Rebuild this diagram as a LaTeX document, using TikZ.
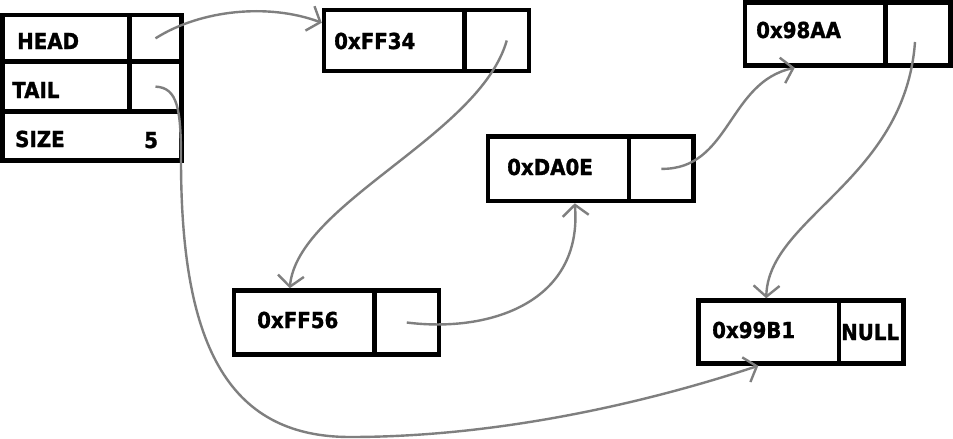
\documentclass[tikz,border=0pt]{standalone}
\usepackage{fontspec}
\newfontfamily\lblfont[FakeStretch=0.9,FakeBold=1.2]{DejaVu Sans}
\usetikzlibrary{arrows.meta,calc}
\definecolor{arrowgray}{RGB}{127,127,127}
\begin{document}
\begin{tikzpicture}[x=1pt,y=-1pt,
  cell/.style={draw=black,line width=4.5pt,inner sep=0pt,fill=none},
  lbl/.style={font=\lblfont\bfseries\fontsize{22}{24}\selectfont,anchor=base west,inner sep=0pt},
  link/.style={draw=arrowgray,line width=2.4pt,-{Straight Barb[length=11pt,width=26pt]}}]
\useasboundingbox[fill=white] (0,0) rectangle (953,439);
% header struct
\node[cell,minimum width=127pt,minimum height=46.7pt] (headd) at (66,38.35) {};
\node[cell,minimum width=52pt,minimum height=46.7pt] (headp) at (155.5,38.35) {};
\node[cell,minimum width=127pt,minimum height=49.8pt] (taild) at (66,86.6) {};
\node[cell,minimum width=52pt,minimum height=49.8pt] (tailp) at (155.5,86.6) {};
\node[cell,minimum width=179pt,minimum height=49pt] (sized) at (92,136) {};
\node[lbl] (thead) at (17,49) {HEAD};
\node[lbl] (ttail) at (12,98) {TAIL};
\node[lbl] (tsize) at (15,147) {SIZE};
\node[lbl] (tfive) at (144,148) {5};
% list nodes
\node[cell,minimum width=140.5pt,minimum height=61pt] (ff34d) at (394.25,40.5) {};
\node[cell,minimum width=64.5pt,minimum height=61pt] (ff34p) at (496.75,40.5) {};
\node[lbl] (tff34) at (334,49) {0xFF34};
\node[cell,minimum width=140.5pt,minimum height=63pt] (aa98d) at (815.25,34) {};
\node[cell,minimum width=65pt,minimum height=63pt] (aa98p) at (918,34) {};
\node[lbl] (taa98) at (756,38) {0x98AA};
\node[cell,minimum width=141pt,minimum height=64.3pt] (da0ed) at (558.5,168.85) {};
\node[cell,minimum width=64.5pt,minimum height=64.3pt] (da0ep) at (661.25,168.85) {};
\node[lbl] (tda0e) at (507,175) {0xDA0E};
\node[cell,minimum width=140.5pt,minimum height=64pt] (ff56d) at (304.25,322.5) {};
\node[cell,minimum width=64.5pt,minimum height=64pt] (ff56p) at (406.75,322.5) {};
\node[lbl] (tff56) at (257,328) {0xFF56};
\node[cell,minimum width=140.5pt,minimum height=63pt] (b99d) at (768.75,332) {};
\node[cell,minimum width=64.5pt,minimum height=63pt] (b99p) at (871.25,332) {};
\node[lbl] (tb99) at (712,338) {0x99B1};
\node[lbl] (tnull) at (841,340) {NULL};
% connectors
\draw[link] (headp.center) .. controls +(44.5,-28.3) and +(-54,-20) .. ($(ff34d.north west)+(0,15)$);
\draw[link] ($(ff34p.center)+(10,0)$) .. controls +(-27,95) and +(8,-85) .. ($(ff56d.north west)+(58,0)$);
\draw[link] (ff56p.center) .. controls +(83,10.5) and +(8,99) .. ($(da0ed.south west)+(89,0)$);
\draw[link] (da0ep.center) .. controls +(69,1) and +(-67,14.5) .. ($(aa98d.south west)+(52,0)$);
\draw[link] ($(aa98p.center)+(-3,8)$) .. controls +(-10,138) and +(2,-80.5) .. ($(b99d.north west)+(70,0)$);
\coordinate (tbend) at (181,160);
\coordinate (tlow) at (350,437);
\draw[link] (tailp.center) .. controls +(22.5,1) and +(0,-50) .. (tbend)
  .. controls +(0,180) and +(-125,0) .. (tlow)
  .. controls +(150,0) and +(-110,36.5) .. ($(b99d.south west)+(62,0)$);
\end{tikzpicture}
\end{document}
